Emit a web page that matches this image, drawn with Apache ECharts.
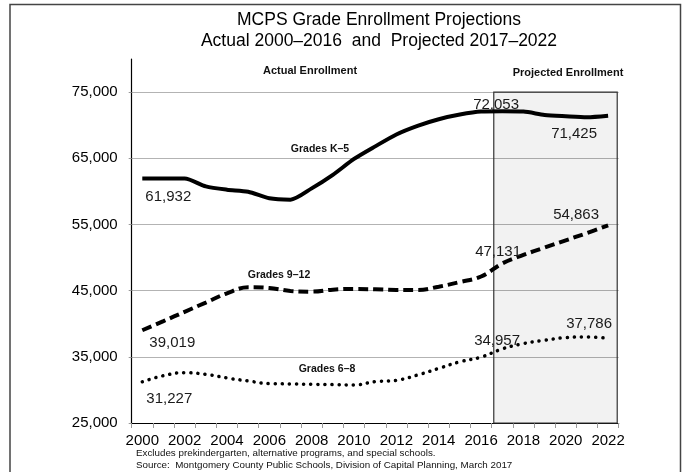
<!DOCTYPE html>
<html><head><meta charset="utf-8">
<script src="https://cdn.jsdelivr.net/npm/echarts@6/dist/echarts.min.js"></script>
<style>html,body{margin:0;padding:0;background:#fff}#c{width:689px;height:472px}</style>
</head><body><div id="c"></div>
<script>
// ---- data ----
const years = ['2000','2001','2002','2003','2004','2005','2006','2007','2008','2009','2010','2011',
               '2012','2013','2014','2015','2016','2017','2018','2019','2020','2021','2022'];
const gradesK5  = [61932,61932,61932,60750,60250,59950,58950,58750,60450,62500,64900,66800,
                   68600,69900,70900,71600,72053,72100,72050,71550,71350,71200,71425];
const grades912 = [39019,40400,41800,43200,44600,45500,45400,44950,44850,45150,45250,45200,
                   45100,45100,45600,46300,47131,49100,50400,51500,52600,53700,54863];
const grades68  = [31227,32150,32600,32350,31800,31350,30950,30900,30850,30800,30750,31250,
                   31450,32250,33250,34250,34957,36200,37000,37500,37900,38000,37786];
const yTicks = [25000,35000,45000,55000,65000,75000];
const seriesNames = ['Grades K\u20135','Grades 9\u201312','Grades 6\u20138'];
const labeledYears = ['2000','2016','2022'];

// ---- styling ----
const FONT = "'Liberation Sans', Arial, sans-serif";
const labelOffsets = {
  k5:  {'2000':[26,18], '2016':[15,-7],  '2022':[-34,18]},
  g912:{'2000':[30,13], '2016':[17,-25], '2022':[-32,-11]},
  g68: {'2000':[27,17], '2016':[16,-16], '2022':[-19,-15]}
};
function withLabels(values, offsets){
  return values.map((v,i)=>{
    const y = years[i];
    if (labeledYears.indexOf(y) < 0) return v;
    return {value:v,
      label:{show:true, position:'inside', offset:offsets[y],
        formatter:p=>Number(p.value).toLocaleString('en-US'),
        fontFamily:FONT, fontSize:15, color:'#1a1a1a'}};
  });
}
const yStep = yTicks[1]-yTicks[0];
const lineCommon = {type:'line', symbol:'circle', symbolSize:0.1, showSymbol:true, showAllSymbol:true,
  itemStyle:{color:'#000'}, label:{show:false}, emphasis:{disabled:true}};

const chart = echarts.init(document.getElementById('c'), null, {renderer:'canvas'});
chart.setOption({
  animation:false,
  backgroundColor:'#fff',
  grid:{left:131.7, right:70.3, top:59, bottom:49, containLabel:false},
  xAxis:[{
    type:'category', data:years, boundaryGap:true,
    axisLine:{lineStyle:{color:'#000', width:1.2}},
    axisTick:{show:true, interval:0, length:5, lineStyle:{color:'#999'}},
    axisLabel:{interval:1, margin:10, fontFamily:FONT, fontSize:15, color:'#000'},
    splitLine:{show:false}
  },{
    type:'value', min:0, max:years.length, show:false
  }],
  yAxis:{
    type:'value', min:yTicks[0], max:yTicks[yTicks.length-1]+yStep/2, interval:yStep,
    axisLine:{show:true, lineStyle:{color:'#000', width:1.2}},
    axisTick:{show:true, length:3, lineStyle:{color:'#999'}},
    axisLabel:{showMaxLabel:false, margin:14, fontFamily:FONT, fontSize:15, color:'#000',
      formatter:v=> yTicks.indexOf(v)>=0 ? v.toLocaleString('en-US') : ''},
    splitLine:{show:true, showMinLine:false, showMaxLine:false, lineStyle:{color:'#b3b3b3', width:1}}
  },
  series:[
    {type:'line', xAxisIndex:1, data:[], silent:true,
     markArea:{silent:true,
       itemStyle:{color:'rgba(0,0,0,0.05)', borderColor:'#333', borderWidth:1.2},
       data:[[{coord:[17.1, yTicks[0]]},{coord:[22.93, yTicks[yTicks.length-1]]}]]}},
    Object.assign({}, lineCommon, {name:seriesNames[0], data:withLabels(gradesK5, labelOffsets.k5),
     smooth:0.25, lineStyle:{color:'#000', width:4}}),
    Object.assign({}, lineCommon, {name:seriesNames[1], data:withLabels(grades912, labelOffsets.g912),
     smooth:0.4, lineStyle:{color:'#000', width:4, type:[10,5]}}),
    Object.assign({}, lineCommon, {name:seriesNames[2], data:withLabels(grades68, labelOffsets.g68),
     smooth:0.45, lineStyle:{color:'#000', width:3.5, type:[0.1,7], cap:'round'}})
  ],
  graphic:[
    {type:'rect', shape:{x:10, y:4.5, width:670.5, height:520}, silent:true,
     style:{fill:null, stroke:'#444', lineWidth:1.5}},
    {type:'text', x:379, y:20, style:{text:'MCPS Grade Enrollment Projections', font:"17.5px "+FONT, fill:'#000', textAlign:'center', textVerticalAlign:'middle'}},
    {type:'text', x:379, y:41, style:{text:'Actual 2000\u20132016  and  Projected 2017\u20132022', font:"17.5px "+FONT, fill:'#000', textAlign:'center', textVerticalAlign:'middle'}},
    {type:'text', x:310, y:71, style:{text:'Actual Enrollment', font:"bold 11px "+FONT, fill:'#111', textAlign:'center', textVerticalAlign:'middle'}},
    {type:'text', x:568, y:72.5, style:{text:'Projected Enrollment', font:"bold 11px "+FONT, fill:'#111', textAlign:'center', textVerticalAlign:'middle'}},
    {type:'text', x:320, y:149, style:{text:seriesNames[0], font:"bold 10.5px "+FONT, fill:'#111', textAlign:'center', textVerticalAlign:'middle'}},
    {type:'text', x:279, y:275, style:{text:seriesNames[1], font:"bold 10.5px "+FONT, fill:'#111', textAlign:'center', textVerticalAlign:'middle'}},
    {type:'text', x:327, y:369, style:{text:seriesNames[2], font:"bold 10.5px "+FONT, fill:'#111', textAlign:'center', textVerticalAlign:'middle'}},
    {type:'text', x:136, y:453, style:{text:'Excludes prekindergarten, alternative programs, and special schools.', font:"9.8px "+FONT, fill:'#111', textAlign:'left', textVerticalAlign:'middle'}},
    {type:'text', x:136, y:465.5, style:{text:'Source:  Montgomery County Public Schools, Division of Capital Planning, March 2017', font:"9.8px "+FONT, fill:'#111', textAlign:'left', textVerticalAlign:'middle'}}
  ]
});
</script>
</body></html>
